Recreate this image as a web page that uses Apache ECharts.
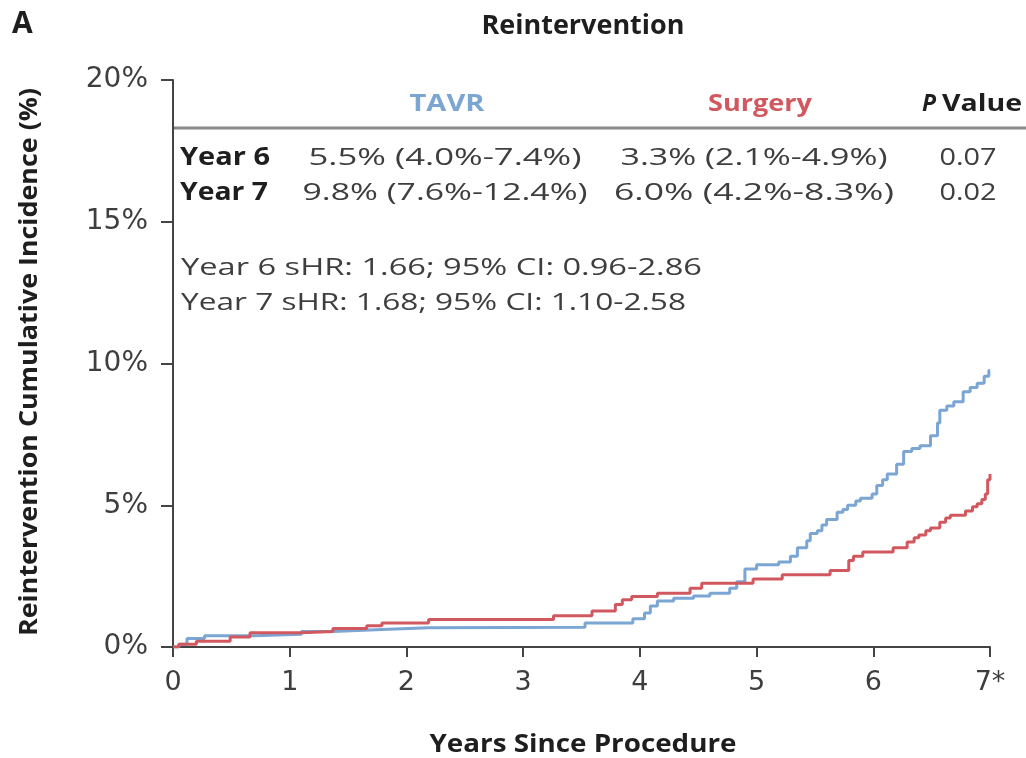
<!DOCTYPE html>
<html><head><meta charset="utf-8">
<script src="https://cdn.jsdelivr.net/npm/echarts@6/dist/echarts.min.js"></script>
<style>html,body{margin:0;padding:0;background:#fff}#c{width:1026px;height:758px}</style>
</head><body><div id="c"></div>
<script>
// ---- data ----
const xTicks = [0,1,2,3,4,5,6,7];
const xTickLabels = ['0','1','2','3','4','5','6','7*'];
const yTicks = [0,5,10,15,20];
const tavrTime = [0,0.05,0.12,0.27,0.7,1.1,1.37,1.79,2.19,3.53,3.94,4.04,4.09,4.15,4.29,4.46,4.6,4.77,4.83,4.9,5.0,5.19,5.29,5.35,5.43,5.46,5.52,5.56,5.6,5.69,5.74,5.78,5.85,5.89,5.99,6.03,6.08,6.12,6.2,6.26,6.33,6.4,6.49,6.55,6.57,6.63,6.69,6.77,6.83,6.89,6.95,6.99,7.0];
const tavrValue = [0,0.1,0.3,0.4,0.45,0.55,0.62,0.68,0.7,0.85,1.0,1.2,1.45,1.62,1.72,1.8,1.9,2.07,2.3,2.75,2.9,3.0,3.2,3.5,3.75,4.0,4.1,4.3,4.5,4.75,4.85,5.0,5.15,5.25,5.4,5.7,5.9,6.1,6.45,6.9,7.0,7.1,7.45,7.9,8.35,8.5,8.65,9.0,9.15,9.3,9.55,9.75,9.75];
const surgTime = [0,0.05,0.2,0.49,0.66,1.1,1.37,1.66,1.79,2.19,3.26,3.59,3.79,3.85,3.93,4.15,4.43,4.53,4.97,5.22,5.63,5.79,5.83,5.91,6.17,6.29,6.35,6.39,6.45,6.49,6.57,6.62,6.66,6.79,6.85,6.89,6.93,6.96,6.98,7.0];
const surgValue = [0,0.1,0.2,0.35,0.5,0.55,0.65,0.75,0.85,0.97,1.1,1.27,1.5,1.67,1.78,1.9,2.07,2.25,2.4,2.55,2.7,3.05,3.2,3.35,3.5,3.7,3.85,3.95,4.1,4.2,4.4,4.55,4.65,4.8,4.95,5.05,5.2,5.4,5.9,6.1];
const tableHeader = ['TAVR','Surgery','Value'];
const rowLabels = ['Year 6','Year 7'];
const tavrCells = ['5.5% (4.0%-7.4%)','9.8% (7.6%-12.4%)'];
const surgCells = ['3.3% (2.1%-4.9%)','6.0% (4.2%-8.3%)'];
const pCells = ['0.07','0.02'];
const hrLines = ['Year 6 sHR: 1.66; 95% CI: 0.96-2.86','Year 7 sHR: 1.68; 95% CI: 1.10-2.58'];
const titleText = 'Reintervention';
const xName = 'Years Since Procedure';
const yName = 'Reintervention Cumulative Incidence (%)';

const BLUE = '#7ba5d3', RED = '#d2585f', TXT = '#1e1e1e', GR = '#3e3e3e';
const FONT = '"Open Sans", "DejaVu Sans", sans-serif';
const AXF = '"DejaVu Sans", sans-serif';

const tavrData = tavrTime.map((t,i)=>[t,tavrValue[i]]);
const surgData = surgTime.map((t,i)=>[t,surgValue[i]]);

const mctx = document.createElement('canvas').getContext('2d');
function sx(text, font, w){ mctx.font = font; return w / mctx.measureText(text).width; }
function txt(text, x, y, font, fill, w, align, extra){
  const o = {type:'text', x:x, y:y, scaleX: sx(text, font, w),
    style:{text:text, font:font, fill:fill, align:align||'center', verticalAlign:'middle'}};
  return Object.assign(o, extra||{});
}

const chart = echarts.init(document.getElementById('c'), null, {renderer:'canvas'});

const B24 = 'bold 24px '+FONT, B25 = 'bold 25px '+FONT, R24 = '24px '+FONT;
const graphics = [
  {type:'text', x:12, y:24, style:{text:'A', font:'bold 30px '+FONT, fill:TXT, verticalAlign:'middle'}},
  txt(titleText, 583, 27, 'bold 26px '+FONT, TXT, 203),
  txt(tableHeader[0], 447, 104, B24, BLUE, 75),
  txt(tableHeader[1], 760, 104, B24, RED, 104),
  txt('P', 922, 104, 'italic bold 24px '+FONT, TXT, 14, 'left'),
  txt(tableHeader[2], 1022, 104, B24, TXT, 80, 'right'),
  {type:'line', shape:{x1:173, y1:128, x2:1026, y2:128}, style:{stroke:'#8a8a8a', lineWidth:3}},
  txt(xName, 583, 745, B25, TXT, 307),
  txt(yName, 30, 362, B25, TXT, 548, 'center', {rotation:Math.PI/2}),
];
const cellW = [[273,285],[267,280],[57,57]];
rowLabels.forEach((lab,i)=>{
  const y = 158 + i*35;
  graphics.push(txt(lab, 180, y, B25, TXT, i===0?90:88, 'left'));
  graphics.push(txt(tavrCells[i], 445, y, R24, GR, cellW[0][i]));
  graphics.push(txt(surgCells[i], 754, y, R24, GR, cellW[1][i]));
  graphics.push(txt(pCells[i], 968, y, R24, GR, cellW[2][i]));
});
const hrW = [521, 505];
hrLines.forEach((t,i)=>{
  graphics.push(txt(t, 181, 268+i*35, R24, GR, hrW[i], 'left'));
});

chart.setOption({
  backgroundColor:'#fff',
  animation:false,
  grid:{left:173, right:36, top:80, bottom:111, containLabel:false},
  xAxis:{type:'value', min:0, max:7, interval:1,
    axisLine:{show:true, onZero:false, lineStyle:{color:'#444', width:2}},
    axisTick:{show:true, length:10, lineStyle:{color:'#444', width:2}},
    axisLabel:{fontFamily:AXF, fontSize:27, color:GR, margin:22,
      formatter:v=>xTickLabels[xTicks.indexOf(v)]},
    splitLine:{show:false}},
  yAxis:{type:'value', min:0, max:20, interval:5,
    axisLine:{show:true, lineStyle:{color:'#444', width:2}},
    axisTick:{show:true, length:12, lineStyle:{color:'#444', width:2}},
    axisLabel:{fontFamily:AXF, fontSize:28, color:GR, margin:25,
      formatter:v=>yTicks.includes(v)?v+'%':''},
    splitLine:{show:false}},
  series:[
    {name:'TAVR', type:'line', step:'end', data:tavrData, showSymbol:false, lineStyle:{color:BLUE, width:3}, z:3},
    {name:'Surgery', type:'line', step:'end', data:surgData, showSymbol:false, lineStyle:{color:RED, width:3}, z:4}
  ],
  graphic:graphics
});
</script></body></html>
